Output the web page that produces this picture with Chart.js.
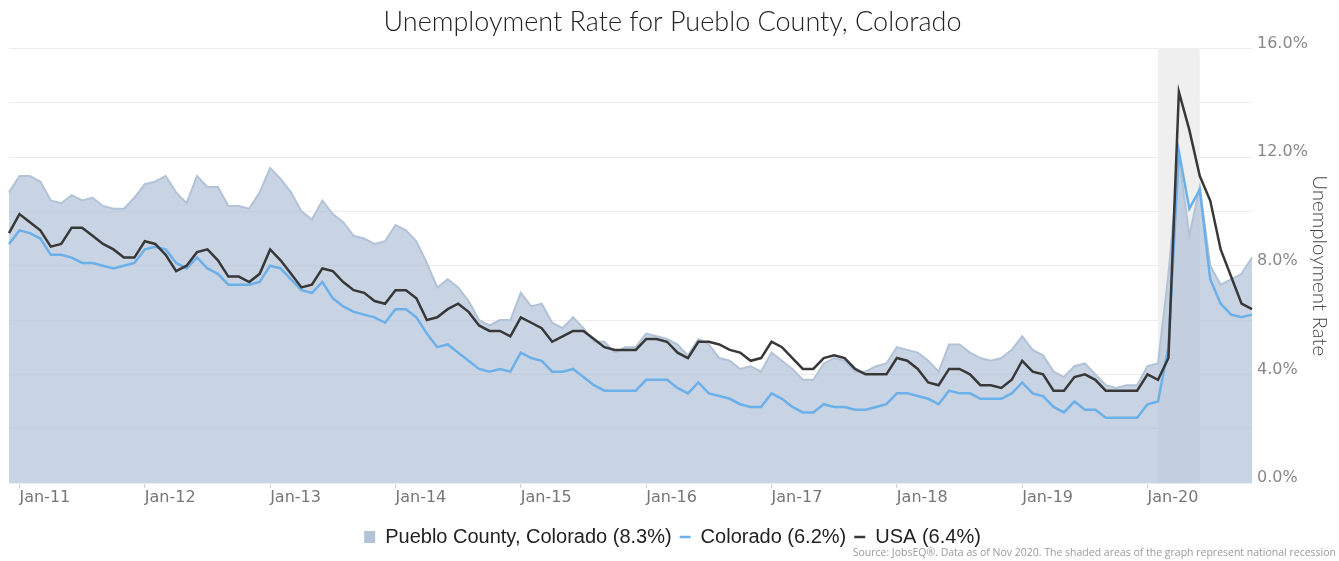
<!DOCTYPE html>
<html lang="en">
<head>
    <meta charset="UTF-8">
    <title>Unemployment Rate for Pueblo County, Colorado</title>
    <style>
        body { margin: 0; background: #fff; }
        .wrap { width: 1339px; height: 561px; position: relative; }
    </style>
    <script src="https://cdn.jsdelivr.net/npm/chart.js"></script>
</head>
<body>
<div class="wrap"><canvas id="chart"></canvas></div>
<script>
// monthly series, Dec-10 .. Nov-20
const monthNames = ['Jan','Feb','Mar','Apr','May','Jun','Jul','Aug','Sep','Oct','Nov','Dec'];
const firstYear = 2010, firstMonth = 11, monthCount = 120;
const labels = [];
for (let i = 0; i < monthCount; i++) {
    const m = (firstMonth + i) % 12;
    const y = firstYear + Math.floor((firstMonth + i) / 12);
    labels.push(monthNames[m] + '-' + String(y).slice(2));
}

const pueblo = [
    10.7,
    11.3, 11.3, 11.1, 10.4, 10.3, 10.6, 10.4, 10.5, 10.2, 10.1, 10.1, 10.5,
    11.0, 11.1, 11.3, 10.7, 10.3, 11.3, 10.9, 10.9, 10.2, 10.2, 10.1, 10.7,
    11.6, 11.2, 10.7, 10.0, 9.7, 10.4, 9.9, 9.6, 9.1, 9.0, 8.8, 8.9,
    9.5, 9.3, 8.9, 8.1, 7.2, 7.5, 7.2, 6.7, 6.0, 5.8, 6.0, 6.0,
    7.0, 6.5, 6.6, 5.9, 5.7, 6.1, 5.7, 5.2, 5.2, 4.8, 5.0, 5.0,
    5.5, 5.4, 5.3, 5.1, 4.7, 5.3, 5.1, 4.6, 4.5, 4.2, 4.3, 4.1,
    4.8, 4.5, 4.2, 3.8, 3.8, 4.4, 4.6, 4.5, 4.1, 4.1, 4.3, 4.4,
    5.0, 4.9, 4.8, 4.5, 4.1, 5.1, 5.1, 4.8, 4.6, 4.5, 4.6, 4.9,
    5.4, 4.9, 4.7, 4.1, 3.9, 4.3, 4.4, 4.0, 3.6, 3.5, 3.6, 3.6,
    4.3, 4.4, 7.7, 12.0, 9.1, 10.9, 8.0, 7.3, 7.5, 7.7, 8.3
];
const colorado = [
    8.8,
    9.3, 9.2, 9.0, 8.4, 8.4, 8.3, 8.1, 8.1, 8.0, 7.9, 8.0, 8.1,
    8.6, 8.7, 8.6, 8.1, 7.9, 8.3, 7.9, 7.7, 7.3, 7.3, 7.3, 7.4,
    8.0, 7.9, 7.5, 7.1, 7.0, 7.4, 6.8, 6.5, 6.3, 6.2, 6.1, 5.9,
    6.4, 6.4, 6.1, 5.5, 5.0, 5.1, 4.8, 4.5, 4.2, 4.1, 4.2, 4.1,
    4.8, 4.6, 4.5, 4.1, 4.1, 4.2, 3.9, 3.6, 3.4, 3.4, 3.4, 3.4,
    3.8, 3.8, 3.8, 3.5, 3.3, 3.7, 3.3, 3.2, 3.1, 2.9, 2.8, 2.8,
    3.3, 3.1, 2.8, 2.6, 2.6, 2.9, 2.8, 2.8, 2.7, 2.7, 2.8, 2.9,
    3.3, 3.3, 3.2, 3.1, 2.9, 3.4, 3.3, 3.3, 3.1, 3.1, 3.1, 3.3,
    3.7, 3.3, 3.2, 2.8, 2.6, 3.0, 2.7, 2.7, 2.4, 2.4, 2.4, 2.4,
    2.9, 3.0, 5.0, 12.2, 10.1, 10.8, 7.5, 6.6, 6.2, 6.1, 6.2
];
const usa = [
    9.2,
    9.9, 9.6, 9.3, 8.7, 8.8, 9.4, 9.4, 9.1, 8.8, 8.6, 8.3, 8.3,
    8.9, 8.8, 8.4, 7.8, 8.0, 8.5, 8.6, 8.2, 7.6, 7.6, 7.4, 7.7,
    8.6, 8.2, 7.7, 7.2, 7.3, 7.9, 7.8, 7.4, 7.1, 7.0, 6.7, 6.6,
    7.1, 7.1, 6.8, 6.0, 6.1, 6.4, 6.6, 6.3, 5.8, 5.6, 5.6, 5.4,
    6.1, 5.9, 5.7, 5.2, 5.4, 5.6, 5.6, 5.3, 5.0, 4.9, 4.9, 4.9,
    5.3, 5.3, 5.2, 4.8, 4.6, 5.2, 5.2, 5.1, 4.9, 4.8, 4.5, 4.6,
    5.2, 5.0, 4.6, 4.2, 4.2, 4.6, 4.7, 4.6, 4.2, 4.0, 4.0, 4.0,
    4.6, 4.5, 4.2, 3.7, 3.6, 4.2, 4.2, 4.0, 3.6, 3.6, 3.5, 3.8,
    4.5, 4.1, 4.0, 3.4, 3.4, 3.9, 4.0, 3.8, 3.4, 3.4, 3.4, 3.4,
    4.0, 3.8, 4.6, 14.4, 13.0, 11.3, 10.4, 8.6, 7.6, 6.6, 6.4
];

// national recession shading
const recessionStart = 'Feb-20';
const recessionEnd = 'Jun-20';

const sourceNote = 'Source: JobsEQ®. Data as of Nov 2020. The shaded areas of the graph represent national recession';

function legendText(name, arr) {
    return name + ' (' + arr[arr.length - 1].toFixed(1) + '%)';
}

const recessionPlugin = {
    id: 'recession',
    beforeDatasetsDraw(chart) {
        const {ctx, chartArea, scales: {x}} = chart;
        const x0 = x.getPixelForValue(labels.indexOf(recessionStart));
        const x1 = x.getPixelForValue(labels.indexOf(recessionEnd));
        ctx.save();
        ctx.fillStyle = '#efefef';
        ctx.fillRect(x0, chartArea.top, x1 - x0, chartArea.bottom - chartArea.top);
        ctx.restore();
    }
};

// small source line in the bottom right corner
const sourcePlugin = {
    id: 'sourceNote',
    afterDraw(chart) {
        const ctx = chart.ctx;
        ctx.save();
        ctx.font = '10.5px "Open Sans"';
        ctx.fillStyle = '#999';
        ctx.textAlign = 'right';
        ctx.textBaseline = 'middle';
        ctx.fillText(sourceNote, chart.width - 3, chart.height - 8);
        ctx.restore();
    }
};

new Chart(document.getElementById('chart'), {
    type: 'line',
    data: {
        labels: labels,
        datasets: [
            {
                label: legendText('Pueblo County, Colorado', pueblo),
                data: pueblo,
                fill: 'origin',
                backgroundColor: 'rgba(176,194,215,0.7)',
                borderColor: '#b2c2d7',
                borderWidth: 2,
                legendStyle: 'rect',
                order: 3
            },
            {
                label: legendText('Colorado', colorado),
                data: colorado,
                fill: false,
                borderColor: '#6cb0ea',
                backgroundColor: '#6cb0ea',
                borderWidth: 2.5,
                legendStyle: 'line',
                order: 2
            },
            {
                label: legendText('USA', usa),
                data: usa,
                fill: false,
                borderColor: '#383838',
                backgroundColor: '#383838',
                borderWidth: 2.5,
                legendStyle: 'line',
                order: 1
            }
        ]
    },
    options: {
        responsive: true,
        maintainAspectRatio: false,
        animation: false,
        elements: { point: { radius: 0 }, line: { tension: 0 } },
        layout: { padding: { left: 9, right: 3, top: 6, bottom: 4 } },
        scales: {
            x: {
                offset: false,
                border: { display: false },
                grid: {
                    display: true,
                    drawOnChartArea: false,
                    drawTicks: true,
                    tickLength: 5,
                    color: '#c5d2e2'
                },
                ticks: {
                    autoSkip: false,
                    maxRotation: 0,
                    align: 'start',
                    padding: 0,
                    color: '#777',
                    font: { family: 'DejaVu Sans', size: 16 },
                    callback: function (v, i) {
                        const l = labels[i];
                        return l.startsWith('Jan') ? l : null;
                    }
                },
                afterFit: s => { s.height = 36; }
            },
            y: {
                position: 'right',
                min: 0,
                max: 16,
                border: { display: false },
                grid: { color: '#ececec', drawTicks: false },
                ticks: {
                    stepSize: 2,
                    padding: 5,
                    labelOffset: -5,
                    color: '#888',
                    font: { family: 'DejaVu Sans', size: 16 },
                    callback: v => (v % 4 === 0 ? v.toFixed(1) + '%' : '')
                },
                title: {
                    display: true,
                    text: 'Unemployment Rate',
                    color: '#444',
                    font: { family: 'Lato', size: 20.5, weight: '300', lineHeight: 1.2 },
                    padding: { top: 4, bottom: 0 }
                },
                afterFit: s => { s.width = 84; }
            }
        },
        plugins: {
            title: {
                display: true,
                text: 'Unemployment Rate for Pueblo County, Colorado',
                color: '#222',
                font: { family: 'Lato', size: 27, weight: '300', lineHeight: 1.2 },
                padding: { top: 0, bottom: 10 }
            },
            legend: {
                position: 'bottom',
                labels: {
                    usePointStyle: true,
                    pointStyleWidth: 11,
                    boxWidth: 11,
                    boxHeight: 12,
                    padding: 8,
                    color: '#222',
                    font: { family: 'Liberation Sans', size: 20 },
                    sort: (a, b) => a.datasetIndex - b.datasetIndex,
                    generateLabels: function (chart) {
                        const items = Chart.defaults.plugins.legend.labels.generateLabels(chart);
                        items.forEach(it => {
                            const ds = chart.data.datasets[it.datasetIndex];
                            it.pointStyle = ds.legendStyle;
                            if (ds.legendStyle === 'rect') {
                                it.fillStyle = ds.borderColor;
                                it.lineWidth = 0;
                            }
                        });
                        return items;
                    }
                }
            },
            tooltip: { enabled: false }
        }
    },
    plugins: [recessionPlugin, sourcePlugin]
});
</script>
</body>
</html>
